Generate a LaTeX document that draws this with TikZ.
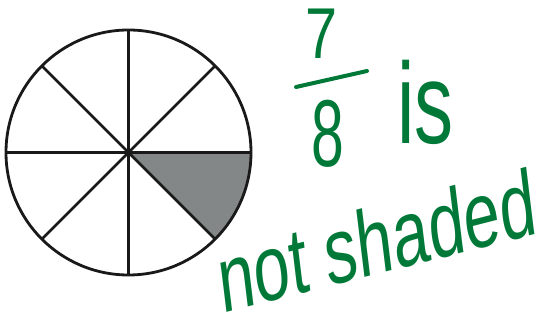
\documentclass[tikz,border=0pt]{standalone}
\usepackage{fontspec}
\setmainfont{Liberation Sans}
\usepackage{xcolor}
\usepackage{tikz}
\usetikzlibrary{calc}
\definecolor{penGreen}{RGB}{0,121,56}
\definecolor{sliceGray}{RGB}{132,135,135}

\begin{document}
\begin{tikzpicture}[x=1pt,y=1pt,
    rim/.style={draw=black!90, line width=2.8pt},
    spoke/.style={draw=black!90, line width=2.6pt},
    pen/.style={text=penGreen, inner sep=0pt},
    bar/.style={draw=penGreen, line width=4pt, line cap=round}
]
\useasboundingbox (0,0) rectangle (542,324);
\coordinate (c) at (128.5,171.5);
\def\rad{122.5}
% shaded eighth
\fill[sliceGray] (c) -- ++(0:\rad) arc (0:-45:\rad) -- cycle;
\foreach \a in {0,45,...,315}
    \draw[spoke] (c) -- ++(\a:\rad);
\draw[rim] (c) circle (\rad);
% the handwriting
\node[pen, font=\fontsize{72}{72}\selectfont, xscale=0.8] (seven) at (322,290) {7};
\node[pen, font=\fontsize{95}{95}\selectfont, xscale=0.62] (eight) at (328,190) {8};
\coordinate (barL) at (296,237);
\coordinate (barR) at (367,253);
\draw[bar] (barL) -- (barR);
\node[pen, font=\fontsize{100}{100}\selectfont, xscale=0.78, yscale=1.15, anchor=base west] (is) at (397,180) {is};
\node[pen, font=\fontsize{65}{65}\selectfont, yscale=1.45, rotate=10, anchor=base west] (notshaded) at (222,10) {not shaded};
\end{tikzpicture}
\end{document}
